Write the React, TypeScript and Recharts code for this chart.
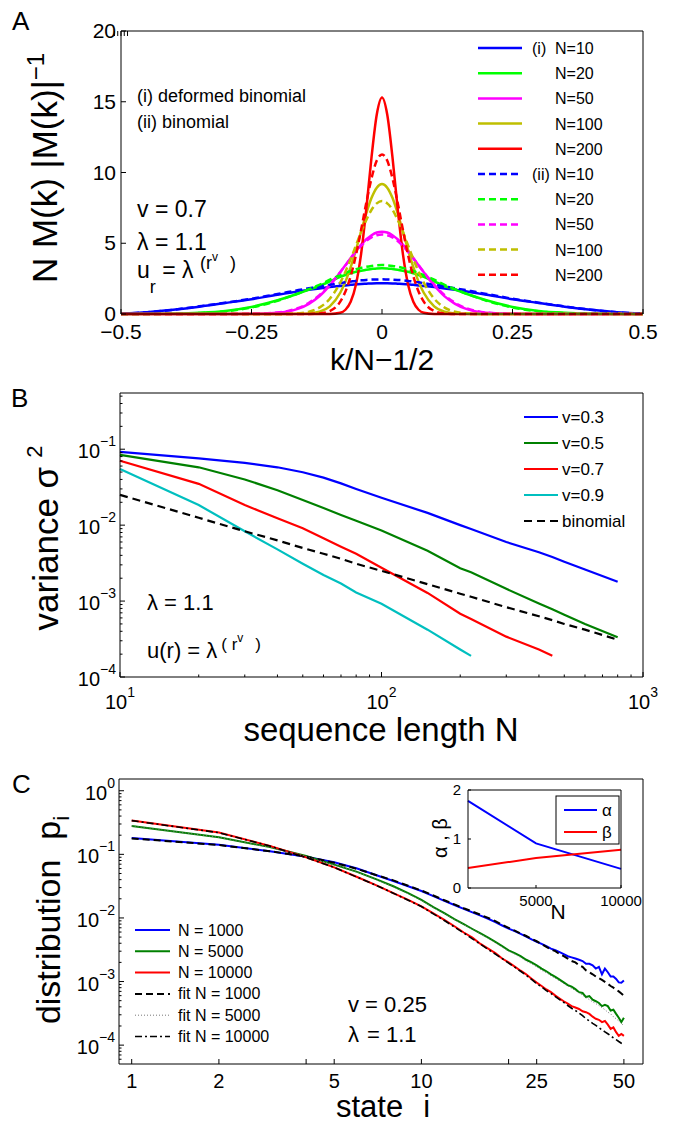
import React from 'react';
import { LineChart, Line, XAxis, YAxis } from 'recharts';

const FONT = '"Liberation Sans", Arial, Helvetica, sans-serif';

// ---------- panel A : N M(k)|M(k)|^-1 against k/N-1/2 ----------
const A_X = [-0.5, -0.45, -0.4, -0.35, -0.3, -0.25, -0.2, -0.18, -0.16, -0.14, -0.12, -0.1, -0.08, -0.07, -0.06, -0.05, -0.04, -0.03, -0.02, -0.01, 0, 0.01, 0.02, 0.03, 0.04, 0.05, 0.06, 0.07, 0.08, 0.1, 0.12, 0.14, 0.16, 0.18, 0.2, 0.25, 0.3, 0.35, 0.4, 0.45, 0.5];
// (i) deformed binomial
const A_S10 = [0.02, 0.13, 0.3, 0.52, 0.78, 1.05, 1.36, 1.48, 1.6, 1.71, 1.81, 1.9, 1.98, 2.02, 2.06, 2.09, 2.12, 2.14, 2.16, 2.17, 2.17, 2.17, 2.16, 2.14, 2.12, 2.09, 2.06, 2.02, 1.98, 1.9, 1.81, 1.71, 1.6, 1.48, 1.36, 1.05, 0.78, 0.52, 0.3, 0.13, 0.02];
const A_S20 = [0, 0.01, 0.03, 0.09, 0.22, 0.5, 0.97, 1.2, 1.45, 1.72, 1.98, 2.3, 2.62, 2.76, 2.88, 2.98, 3.06, 3.13, 3.18, 3.22, 3.23, 3.22, 3.18, 3.13, 3.06, 2.98, 2.88, 2.76, 2.62, 2.3, 1.98, 1.72, 1.45, 1.2, 0.97, 0.5, 0.22, 0.09, 0.03, 0.01, 0];
const A_S50 = [0, 0, 0, 0, 0.002, 0.01, 0.08, 0.18, 0.38, 0.72, 1.25, 2.02, 2.95, 3.45, 3.96, 4.45, 4.9, 5.28, 5.57, 5.76, 5.82, 5.76, 5.57, 5.28, 4.9, 4.45, 3.96, 3.45, 2.95, 2.02, 1.25, 0.72, 0.38, 0.18, 0.08, 0.01, 0.002, 0, 0, 0, 0];
const A_S100 = [0, 0, 0, 0, 0, 0, 0, 0, 0.01, 0.035, 0.16, 0.54, 1.5, 2.29, 3.31, 4.52, 5.84, 7.12, 8.21, 8.93, 9.19, 8.93, 8.21, 7.12, 5.84, 4.52, 3.31, 2.29, 1.5, 0.54, 0.16, 0.035, 0.01, 0, 0, 0, 0, 0, 0, 0, 0];
const A_S200 = [0, 0, 0, 0, 0, 0, 0, 0, 0, 0, 0, 0.005, 0.09, 0.3, 0.86, 2.07, 4.25, 7.45, 11.1, 14.1, 15.3, 14.1, 11.1, 7.45, 4.25, 2.07, 0.86, 0.3, 0.09, 0.005, 0, 0, 0, 0, 0, 0, 0, 0, 0, 0, 0];
// (ii) binomial
const A_D10 = [0.02, 0.12, 0.3, 0.54, 0.8, 1.08, 1.42, 1.55, 1.69, 1.82, 1.95, 2.06, 2.18, 2.24, 2.29, 2.34, 2.38, 2.41, 2.43, 2.44, 2.45, 2.44, 2.43, 2.41, 2.38, 2.34, 2.29, 2.24, 2.18, 2.06, 1.95, 1.82, 1.69, 1.55, 1.42, 1.08, 0.8, 0.54, 0.3, 0.12, 0.02];
const A_D20 = [0, 0.005, 0.02, 0.07, 0.19, 0.46, 0.94, 1.19, 1.46, 1.76, 2.06, 2.42, 2.75, 2.9, 3.04, 3.16, 3.26, 3.34, 3.4, 3.44, 3.46, 3.44, 3.4, 3.34, 3.26, 3.16, 3.04, 2.9, 2.75, 2.42, 2.06, 1.76, 1.46, 1.19, 0.94, 0.46, 0.19, 0.07, 0.02, 0.005, 0];
const A_D50 = [0, 0, 0, 0, 0.002, 0.015, 0.1, 0.22, 0.43, 0.79, 1.33, 2.08, 2.96, 3.44, 3.93, 4.39, 4.81, 5.16, 5.42, 5.57, 5.62, 5.57, 5.42, 5.16, 4.81, 4.39, 3.93, 3.44, 2.96, 2.08, 1.33, 0.79, 0.43, 0.22, 0.1, 0.015, 0.002, 0, 0, 0, 0];
const A_D100 = [0, 0, 0, 0, 0, 0, 0.005, 0.012, 0.05, 0.16, 0.45, 1.08, 2.22, 2.99, 3.88, 4.84, 5.8, 6.65, 7.37, 7.82, 7.98, 7.82, 7.37, 6.65, 5.8, 4.84, 3.88, 2.99, 2.22, 1.08, 0.45, 0.16, 0.05, 0.012, 0.005, 0, 0, 0, 0, 0, 0];
const A_D200 = [0, 0, 0, 0, 0, 0, 0, 0, 0, 0.005, 0.04, 0.21, 0.87, 1.59, 2.67, 4.15, 5.95, 7.87, 9.6, 10.84, 11.28, 10.84, 9.6, 7.87, 5.95, 4.15, 2.67, 1.59, 0.87, 0.21, 0.04, 0.005, 0, 0, 0, 0, 0, 0, 0, 0, 0];
const A_X_TICKS = [-0.5, -0.25, 0, 0.25, 0.5];
const A_X_LABELS = ['\u22120.5', '\u22120.25', '0', '0.25', '0.5'];
const A_Y_TICKS = [0, 5, 10, 15, 20];

// ---------- panel B : variance against sequence length ----------
const B_N = [10, 20, 30, 40, 50, 60, 70, 80, 100, 150, 200, 220, 300, 400, 450, 500, 600, 800];
const B_V03 = [0.092, 0.0756, 0.066, 0.0578, 0.0498, 0.0422, 0.0355, 0.03, 0.0229, 0.0145, 0.01, 0.0089, 0.006, 0.0044, 0.0038, 0.0033, 0.0026, 0.0018];
const B_V05 = [0.0844, 0.0578, 0.04, 0.0288, 0.0214, 0.0168, 0.0136, 0.0114, 0.0085, 0.0046, 0.0027, 0.0024, 0.00145, 0.00093, 0.00078, 0.00066, 0.0005, 0.000334];
const B_V07 = [0.0705, 0.035, 0.0184, 0.0123, 0.0091, 0.0067, 0.0052, 0.0042, 0.00275, 0.00128, 0.00068, 0.00058, 0.00034, 0.00023, 0.00019, null, null, null];
const B_V09 = [0.055, 0.0184, 0.0083, 0.0048, 0.0031, 0.0022, 0.0017, 0.0013, 0.00092, 0.00042, 0.00023, 0.00019, null, null, null, null, null, null];
const B_BINOM = [0.025, 0.0125, 0.0083, 0.0063, 0.005, 0.0042, 0.0036, 0.0031, 0.0025, 0.00167, 0.00125, 0.00114, 0.00083, 0.00063, 0.00056, 0.0005, 0.00042, 0.00031];
const B_X_MAJOR = [10, 100, 1000];
const B_Y_MAJOR = [1e-4, 1e-3, 1e-2, 1e-1];

// ---------- panel C : distribution p_i against state i ----------
const C_I = [1, 2, 3, 4, 5, 6, 7, 8, 9, 10, 11, 12, 13, 14, 15, 16, 17, 18, 19, 20, 21, 22, 23, 24, 25, 26, 27, 28, 29, 30, 31, 32, 33, 34, 35, 36, 37, 38, 39, 40, 41, 42, 43, 44, 45, 46, 47, 48, 49, 50];
const C_N1000 = [0.18, 0.141, 0.112, 0.092, 0.075, 0.06, 0.047, 0.038, 0.0315, 0.0265, 0.022, 0.0186, 0.016, 0.0139, 0.0122, 0.0109, 0.0097, 0.0086, 0.0076, 0.0068, 0.0062, 0.0056, 0.0051, 0.0046, 0.0042, 0.0039, 0.0036, 0.0033, 0.0031, 0.0029, 0.0027, 0.0025, 0.0024, 0.0023, 0.0022, 0.0021, 0.0019, 0.0019, 0.0018, 0.0016, 0.0017, 0.0013, 0.0016, 0.0014, 0.0012, 0.0012, 0.0011, 0.00097, 0.00096, 0.00104];
const C_N5000 = [0.28, 0.186, 0.13, 0.094, 0.069, 0.053, 0.0405, 0.0315, 0.0245, 0.0192, 0.0148, 0.0119, 0.0096, 0.008, 0.0067, 0.0057, 0.0049, 0.0042, 0.0036, 0.0031, 0.0028, 0.0025, 0.0022, 0.002, 0.0018, 0.0016, 0.00145, 0.0013, 0.00118, 0.00107, 0.00097, 0.00088, 0.00083, 0.00076, 0.00068, 0.00066, 0.00057, 0.00059, 0.00052, 0.00049, 0.00046, 0.00041, 0.00043, 0.00041, 0.00035, 0.00036, 0.00031, 0.00027, 0.00023, 0.00027];
const C_N10000 = [0.34, 0.22, 0.136, 0.09, 0.0625, 0.044, 0.0325, 0.0246, 0.0192, 0.0152, 0.0118, 0.0093, 0.0074, 0.0059, 0.0049, 0.0039, 0.0033, 0.0028, 0.0023, 0.002, 0.00172, 0.00148, 0.0013, 0.00111, 0.00096, 0.00085, 0.00075, 0.00068, 0.0006, 0.00054, 0.00049, 0.00045, 0.00041, 0.00039, 0.00037, 0.00034, 0.00033, 0.00031, 0.00028, 0.00026, 0.00025, 0.00023, 0.00024, 0.00021, 0.00018, 0.00019, 0.00016, 0.00014, 0.00015, 0.00014];
const C_FIT1000 = [0.178, 0.14, 0.112, 0.092, 0.074, 0.059, 0.047, 0.039, 0.032, 0.027, 0.0225, 0.019, 0.0163, 0.0142, 0.0126, 0.0112, 0.01, 0.0089, 0.0078, 0.007, 0.0063, 0.0057, 0.0052, 0.0047, 0.0043, 0.0039, 0.0035, 0.0032, 0.003, 0.0027, 0.0025, 0.0023, 0.0021, 0.002, 0.0018, 0.0017, 0.0015, 0.0014, 0.0013, 0.0012, 0.00113, 0.00106, 0.00099, 0.00092, 0.00085, 0.0008, 0.00074, 0.0007, 0.00065, 0.0006];
const C_FIT5000 = [0.28, 0.185, 0.129, 0.093, 0.068, 0.0525, 0.0398, 0.0309, 0.024, 0.0188, 0.0145, 0.0117, 0.0094, 0.0079, 0.0066, 0.0056, 0.0048, 0.0041, 0.0035, 0.003, 0.0027, 0.0024, 0.0021, 0.0019, 0.0017, 0.0015, 0.00138, 0.00123, 0.00112, 0.00102, 0.00093, 0.00085, 0.00078, 0.00072, 0.00066, 0.00061, 0.00056, 0.00052, 0.00048, 0.00045, 0.00042, 0.00039, 0.00036, 0.00033, 0.00031, 0.00028, 0.00026, 0.00024, 0.00022, 0.0002];
const C_FIT10000 = [0.339, 0.219, 0.135, 0.089, 0.0624, 0.0437, 0.0324, 0.0245, 0.019, 0.0151, 0.0116, 0.0091, 0.0072, 0.0058, 0.0047, 0.00385, 0.0032, 0.0027, 0.0023, 0.00195, 0.00168, 0.00145, 0.00126, 0.00108, 0.00093, 0.00082, 0.00072, 0.00065, 0.00058, 0.00052, 0.00047, 0.00042, 0.00038, 0.00035, 0.00032, 0.00029, 0.00026, 0.00024, 0.00022, 0.000204, 0.000188, 0.000174, 0.000162, 0.000151, 0.00014, 0.00013, 0.000122, 0.000114, 0.000107, 0.0001];
const C_X_TICKS = [1, 2, 4, 5, 10, 20, 25, 50];
const C_X_LABELED = [1, 2, 5, 10, 25, 50];
const C_Y_MAJOR = [1e-4, 1e-3, 1e-2, 1e-1, 1];

// inset: fitted exponents
const INSET_N = [1000, 5000, 10000];
const INSET_ALPHA = [1.78, 0.91, 0.39];
const INSET_BETA = [0.41, 0.61, 0.78];
const INSET_X_TICKS = [5000, 10000];
const INSET_Y_TICKS = [0, 1, 2];

// ---------- helpers ----------
type Box = { l: number; t: number; r: number; b: number };
type AxisSpec = {
    domain: [number, number];
    scale: 'linear' | 'log';
    ticks: number[];
    major: number[];
    labeled: number[];
    label: (v: number) => React.ReactNode;
    fontSize: number;
    gap: number;
    dy?: number;
    len: number;
};

const near = (v: number, list: number[]) =>
    list.some((m) => Math.abs(v - m) <= Math.abs(m) * 1e-6 + 1e-12);

function decadeTicks(lo: number, hi: number) {
    const out: number[] = [];
    for (let e = Math.floor(Math.log10(lo)); e <= Math.ceil(Math.log10(hi)); e++) {
        for (let m = 1; m <= 9; m++) {
            const v = +(m * Math.pow(10, e)).toPrecision(6);
            if (v >= lo * 0.9999 && v <= hi * 1.0001) out.push(v);
        }
    }
    return out;
}

const logLabel = (v: number) => {
    const e = Math.round(Math.log10(v));
    return (
        <>
            10
            <tspan dy={-12} fontSize={14}>{e < 0 ? '\u2212' + Math.abs(e) : String(e)}</tspan>
        </>
    );
};

function xTick(box: Box, s: AxisSpec, top: boolean) {
    return (p: any) => {
        const v = Number(p.payload?.value);
        const len = near(v, s.major) ? s.len : s.len * 0.5;
        const y0 = top ? box.t : box.b;
        return (
            <g>
                <line x1={p.x} y1={y0} x2={p.x} y2={top ? y0 + len : y0 - len} stroke="#000" strokeWidth={1} />
                {!top && near(v, s.labeled) ? (
                    <text x={p.x} y={box.b + s.gap} textAnchor="middle" fontSize={s.fontSize} fontFamily={FONT} fill="#000">
                        {s.label(v)}
                    </text>
                ) : null}
            </g>
        );
    };
}

function yTick(box: Box, s: AxisSpec, right: boolean) {
    return (p: any) => {
        const v = Number(p.payload?.value);
        const len = near(v, s.major) ? s.len : s.len * 0.5;
        const x0 = right ? box.r : box.l;
        return (
            <g>
                <line x1={x0} y1={p.y} x2={right ? x0 - len : x0 + len} y2={p.y} stroke="#000" strokeWidth={1} />
                {!right && near(v, s.labeled) ? (
                    <text x={box.l - s.gap} y={p.y + (s.dy ?? 0)} textAnchor="end" fontSize={s.fontSize} fontFamily={FONT} fill="#000">
                        {s.label(v)}
                    </text>
                ) : null}
            </g>
        );
    };
}

// axes are 1px thick so recharts still draws them; margins below subtract that pixel
function frameAxes(box: Box, xs: AxisSpec, ys: AxisSpec) {
    const common = { interval: 0 as const, tickLine: false, allowDataOverflow: false, axisLine: { stroke: '#000', strokeWidth: 1 } };
    return [
        <XAxis key="xb" xAxisId="b" dataKey="x" type="number" scale={xs.scale} domain={xs.domain} ticks={xs.ticks} tick={xTick(box, xs, false)} height={1} {...common} />,
        <XAxis key="xt" xAxisId="t" orientation="top" type="number" scale={xs.scale} domain={xs.domain} ticks={xs.ticks} tick={xTick(box, xs, true)} height={1} {...common} />,
        <YAxis key="yl" yAxisId="l" type="number" scale={ys.scale} domain={ys.domain} ticks={ys.ticks} tick={yTick(box, ys, false)} width={1} {...common} />,
        <YAxis key="yr" yAxisId="r" orientation="right" type="number" scale={ys.scale} domain={ys.domain} ticks={ys.ticks} tick={yTick(box, ys, true)} width={1} {...common} />,
    ];
}

type Series = { key: string; name: string; color: string; values: (number | null)[]; width: number; dash?: string };

function buildRows(xs: number[], series: Series[]) {
    return xs.map((x, i) => {
        const row: Record<string, number | null> = { x };
        series.forEach((s) => (row[s.key] = s.values[i]));
        return row;
    });
}

function Panel({ top, left = 0, width, height, box, xs, ys, rows, series, curve }: {
    top: number; left?: number; width: number; height: number; box: Box; xs: AxisSpec; ys: AxisSpec;
    rows: any[]; series: Series[]; curve: 'monotone' | 'linear';
}) {
    return (
        <div style={{ position: 'absolute', left, top, width, height }}>
            <LineChart width={width} height={height} data={rows}
                margin={{ top: box.t - 1, left: box.l - 1, right: width - box.r - 1, bottom: height - box.b - 1 }}>
                {frameAxes(box, xs, ys)}
                {series.map((s) => (
                    <Line key={s.key} xAxisId="b" yAxisId="l" dataKey={s.key} name={s.name} type={curve}
                        stroke={s.color} strokeWidth={s.width} strokeDasharray={s.dash}
                        dot={false} activeDot={false} isAnimationActive={false} />
                ))}
            </LineChart>
        </div>
    );
}

// ---------- series set-up ----------
const DASH_A = '7 4';
const A_SERIES: Series[] = [
    { key: 's10', name: 'N=10', color: '#0000ff', values: A_S10, width: 2.5 },
    { key: 's20', name: 'N=20', color: '#00ff00', values: A_S20, width: 2.5 },
    { key: 's50', name: 'N=50', color: '#ff00ff', values: A_S50, width: 2.5 },
    { key: 's100', name: 'N=100', color: '#bfbf00', values: A_S100, width: 2.5 },
    { key: 's200', name: 'N=200', color: '#ff0000', values: A_S200, width: 2.5 },
    { key: 'd10', name: 'N=10', color: '#0000ff', values: A_D10, width: 2.5, dash: DASH_A },
    { key: 'd20', name: 'N=20', color: '#00ff00', values: A_D20, width: 2.5, dash: DASH_A },
    { key: 'd50', name: 'N=50', color: '#ff00ff', values: A_D50, width: 2.5, dash: DASH_A },
    { key: 'd100', name: 'N=100', color: '#bfbf00', values: A_D100, width: 2.5, dash: DASH_A },
    { key: 'd200', name: 'N=200', color: '#ff0000', values: A_D200, width: 2.5, dash: DASH_A },
];
const B_SERIES: Series[] = [
    { key: 'v03', name: 'v=0.3', color: '#0000ff', values: B_V03, width: 2.2 },
    { key: 'v05', name: 'v=0.5', color: '#008000', values: B_V05, width: 2.2 },
    { key: 'v07', name: 'v=0.7', color: '#ff0000', values: B_V07, width: 2.2 },
    { key: 'v09', name: 'v=0.9', color: '#00bfbf', values: B_V09, width: 2.2 },
    { key: 'bin', name: 'binomial', color: '#000000', values: B_BINOM, width: 2.2, dash: '8 5' },
];
const C_SERIES: Series[] = [
    { key: 'n1000', name: 'N = 1000', color: '#0000ff', values: C_N1000, width: 2 },
    { key: 'n5000', name: 'N = 5000', color: '#008000', values: C_N5000, width: 2 },
    { key: 'n10000', name: 'N = 10000', color: '#ff0000', values: C_N10000, width: 2 },
    { key: 'f1000', name: 'fit N = 1000', color: '#000000', values: C_FIT1000, width: 2, dash: '7 4' },
    { key: 'f5000', name: 'fit N = 5000', color: '#777777', values: C_FIT5000, width: 1, dash: '1 2' },
    { key: 'f10000', name: 'fit N = 10000', color: '#000000', values: C_FIT10000, width: 1.6, dash: '7 3 2 3' },
];
const INSET_SERIES: Series[] = [
    { key: 'alpha', name: '\u03b1', color: '#0000ff', values: INSET_ALPHA, width: 2 },
    { key: 'beta', name: '\u03b2', color: '#ff0000', values: INSET_BETA, width: 2 },
];

// ---------- layout ----------
const A_BOX: Box = { l: 121, t: 31, r: 643, b: 314 };
const B_TOP = 380;
const B_BOX: Box = { l: 120, t: 13, r: 643, b: 297 };
const C_TOP = 760;
const C_BOX: Box = { l: 119, t: 19, r: 643, b: 304 };
const IN_LEFT = 400;
const IN_TOP = 770;
const IN_W = 270;
const IN_BOX: Box = { l: 68, t: 20, r: 221, b: 118 };

const A_XS: AxisSpec = { domain: [-0.5, 0.5], scale: 'linear', ticks: A_X_TICKS, major: A_X_TICKS, labeled: A_X_TICKS, label: (v) => A_X_LABELS[A_X_TICKS.indexOf(v)], fontSize: 21, gap: 25, len: 5 };
const A_YS: AxisSpec = { domain: [0, 20], scale: 'linear', ticks: A_Y_TICKS, major: A_Y_TICKS, labeled: A_Y_TICKS, label: (v) => String(v), fontSize: 21, gap: 5, dy: 7, len: 5 };
const B_XS: AxisSpec = { domain: [10, 1000], scale: 'log', ticks: decadeTicks(10, 1000), major: B_X_MAJOR, labeled: B_X_MAJOR, label: logLabel, fontSize: 20, gap: 32, len: 5 };
const B_YS: AxisSpec = { domain: [1e-4, 0.55], scale: 'log', ticks: decadeTicks(1e-4, 0.55), major: B_Y_MAJOR, labeled: B_Y_MAJOR, label: logLabel, fontSize: 20, gap: 4, dy: 9, len: 5 };
const C_XS: AxisSpec = { domain: [0.904, 58.2], scale: 'log', ticks: C_X_TICKS, major: C_X_TICKS, labeled: C_X_LABELED, label: (v) => String(v), fontSize: 20, gap: 24, len: 5 };
const C_YS: AxisSpec = { domain: [5.05e-5, 1.53], scale: 'log', ticks: decadeTicks(5.05e-5, 1.53), major: C_Y_MAJOR, labeled: C_Y_MAJOR, label: logLabel, fontSize: 20, gap: 4, dy: 9, len: 5 };
const IN_XS: AxisSpec = { domain: [1000, 10000], scale: 'linear', ticks: INSET_X_TICKS, major: INSET_X_TICKS, labeled: INSET_X_TICKS, label: (v) => String(v), fontSize: 15, gap: 18, len: 3 };
const IN_YS: AxisSpec = { domain: [0, 2], scale: 'linear', ticks: INSET_Y_TICKS, major: INSET_Y_TICKS, labeled: INSET_Y_TICKS, label: (v) => String(v), fontSize: 15, gap: 7, dy: 5, len: 3 };

const T = (p: any) => <text fontFamily={FONT} fill="#000" {...p} />;

function Overlay() {
    return (
        <svg width={675} height={1124} style={{ position: 'absolute', left: 0, top: 0, pointerEvents: 'none' }}>
            {/* panel letters */}
            <T x={12} y={30} fontSize={26}>A</T>
            <T x={11} y={407} fontSize={26}>B</T>
            <T x={12} y={793} fontSize={26}>C</T>

            {/* ---- A ---- */}
            <T x={382} y={370} fontSize={30} textAnchor="middle">k/N{'\u2212'}1/2</T>
            <T transform="translate(57,168) rotate(-90)" x={0} y={0} fontSize={35} textAnchor="middle">
                N M(k) |M(k)|<tspan dy={-13} fontSize={24}>{'\u2212'}1</tspan>
            </T>
            <T x={137} y={102} fontSize={18}>(i) deformed binomial</T>
            <T x={137} y={128} fontSize={18}>(ii) binomial</T>
            <T x={137} y={217} fontSize={23}>v = 0.7</T>
            <T x={137} y={250} fontSize={23}>{'\u03bb = 1.1'}</T>
            <T x={137} y={278} fontSize={23}>
                u<tspan dy={15} fontSize={18}>r</tspan>
                <tspan dy={-15} fontSize={23}>{' = \u03bb '}</tspan>
                <tspan dy={-9} fontSize={18}>(r</tspan>
                <tspan dy={-8} fontSize={12}>v</tspan>
                <tspan dx={12} dy={8} fontSize={18}>)</tspan>
            </T>
            {A_SERIES.map((s, i) => {
                const y = 48 + i * 25.2;
                return (
                    <g key={s.key}>
                        <line x1={478} x2={522} y1={y} y2={y} stroke={s.color} strokeWidth={2.5} strokeDasharray={s.dash} />
                        {i === 0 ? <T x={532} y={y + 6} fontSize={16}>(i)</T> : null}
                        {i === 5 ? <T x={532} y={y + 6} fontSize={16}>(ii)</T> : null}
                        <T x={555} y={y + 6} fontSize={16}>{s.name}</T>
                    </g>
                );
            })}

            {/* ---- B ---- */}
            <T x={381} y={741} fontSize={33} textAnchor="middle">sequence length N</T>
            <T transform="translate(58,538) rotate(-90)" x={0} y={0} fontSize={35} textAnchor="middle">
                variance {'\u03c3'}<tspan dx={9} dy={-16} fontSize={22}>2</tspan>
            </T>
            <T x={147} y={610} fontSize={22}>{'\u03bb = 1.1'}</T>
            <T x={147} y={658} fontSize={22}>
                {'u(r) = \u03bb'}
                <tspan dx={4} dy={-8} fontSize={17}>( r</tspan>
                <tspan dy={-8} fontSize={12}>v</tspan>
                <tspan dx={12} dy={8} fontSize={17}>)</tspan>
            </T>
            {B_SERIES.map((s, i) => {
                const y = 417 + i * 26;
                return (
                    <g key={s.key}>
                        <line x1={524} x2={558} y1={y} y2={y} stroke={s.color} strokeWidth={2.2} strokeDasharray={s.dash} />
                        <T x={562} y={y + 6} fontSize={17}>{s.name}</T>
                    </g>
                );
            })}

            {/* ---- C ---- */}
            <T x={383} y={1117} fontSize={31} textAnchor="middle">
                state<tspan dx={20}>i</tspan>
            </T>
            <T transform="translate(60,920) rotate(-90)" x={0} y={0} fontSize={34} textAnchor="middle">
                distribution<tspan dx={20}>p</tspan><tspan dy={9} fontSize={22}>i</tspan>
            </T>
            <T x={348} y={1012} fontSize={22}>v = 0.25</T>
            <T x={348} y={1042} fontSize={22}>{'\u03bb'}<tspan dx={8}>= 1.1</tspan></T>
            {C_SERIES.map((s, i) => {
                const y = 930 + i * 21.3;
                return (
                    <g key={s.key}>
                        <line x1={135} x2={170} y1={y} y2={y} stroke={s.color} strokeWidth={s.width} strokeDasharray={s.dash} />
                        <T x={178} y={y + 5.5} fontSize={16}>{s.name}</T>
                    </g>
                );
            })}

            {/* inset labels and legend */}
            <T transform="translate(447,838) rotate(-90)" x={0} y={0} fontSize={20} textAnchor="middle">{'\u03b1 , \u03b2'}</T>
            <T x={558} y={919} fontSize={21} textAnchor="middle">N</T>
            <rect x={556} y={796} width={63} height={48} fill="#fff" stroke="#000" strokeWidth={1} />
            {INSET_SERIES.map((s, i) => {
                const y = 810 + i * 22;
                return (
                    <g key={s.key}>
                        <line x1={564} x2={597} y1={y} y2={y} stroke={s.color} strokeWidth={2} />
                        <T x={602} y={y + 6} fontSize={17}>{s.name}</T>
                    </g>
                );
            })}
        </svg>
    );
}

export default function App() {
    return (
        <div style={{ position: 'absolute', left: 0, top: 0, width: 675, height: 1124, background: '#fff', overflow: 'hidden', fontFamily: FONT }}>
            <Panel top={0} width={675} height={380} box={A_BOX} xs={A_XS} ys={A_YS}
                rows={buildRows(A_X, A_SERIES)} series={A_SERIES} curve="monotone" />
            <Panel top={B_TOP} width={675} height={380} box={B_BOX} xs={B_XS} ys={B_YS}
                rows={buildRows(B_N, B_SERIES)} series={B_SERIES} curve="linear" />
            <Panel top={C_TOP} width={675} height={364} box={C_BOX} xs={C_XS} ys={C_YS}
                rows={buildRows(C_I, C_SERIES)} series={C_SERIES} curve="linear" />
            <div style={{ position: 'absolute', left: IN_LEFT + IN_BOX.l, top: IN_TOP + IN_BOX.t, width: IN_BOX.r - IN_BOX.l, height: IN_BOX.b - IN_BOX.t, background: '#fff' }} />
            <Panel top={IN_TOP} left={IN_LEFT} width={IN_W} height={140} box={IN_BOX} xs={IN_XS} ys={IN_YS}
                rows={buildRows(INSET_N, INSET_SERIES)} series={INSET_SERIES} curve="linear" />
            <Overlay />
        </div>
    );
}
